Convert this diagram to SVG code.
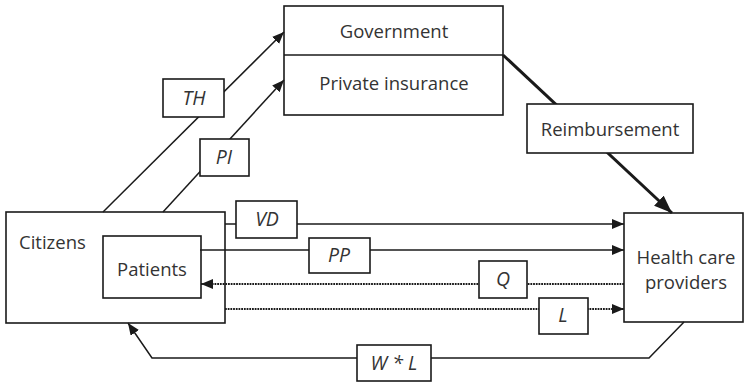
<svg xmlns="http://www.w3.org/2000/svg" width="745" height="383" viewBox="0 0 745 383">
  <defs>
    <marker id="arr" viewBox="0 0 12 10" refX="12" refY="5" markerWidth="12" markerHeight="10" markerUnits="userSpaceOnUse" orient="auto">
      <path d="M0,0 L12,5 L0,10 Z" fill="#1a1a1a"/>
    </marker>
    <marker id="arrBig" viewBox="0 0 18 14" refX="18" refY="7" markerWidth="18" markerHeight="14" markerUnits="userSpaceOnUse" orient="auto">
      <path d="M0,0 L18,7 L0,14 Z" fill="#1a1a1a"/>
    </marker>
  </defs>
  <style>
    .box { fill: #ffffff; stroke: #1a1a1a; stroke-width: 1.6; }
    .lbl { fill: #ffffff; stroke: #1a1a1a; stroke-width: 1.6; }
    .ln { fill: none; stroke: #1a1a1a; stroke-width: 1.5; }
    .dot { fill: none; stroke: #1a1a1a; stroke-width: 1.8; stroke-dasharray: 1.8 0.9; }
    .thick { fill: none; stroke: #1a1a1a; stroke-width: 3; }
    text { font-family: "Open Sans", "Noto Sans", "Liberation Sans", sans-serif; font-size: 18.5px; fill: #333333; }
    .it { font-style: italic; text-anchor: middle; font-size: 19.5px; }
    .mid { text-anchor: middle; }
  </style>
  <rect width="745" height="383" fill="#ffffff"/>

  <g id="payer">
    <rect class="box" x="284" y="6" width="219" height="109"/>
    <line class="box" x1="284" y1="55" x2="503" y2="55"/>
    <text class="mid" x="394" y="38">Government</text>
    <text class="mid" x="394" y="90">Private insurance</text>
  </g>

  <g id="citizens">
    <rect class="box" x="6" y="212" width="219" height="111"/>
    <text x="19" y="249">Citizens</text>
  </g>

  <g id="patients">
    <rect class="box" x="103" y="236" width="98" height="62"/>
    <text class="mid" x="152" y="276">Patients</text>
  </g>

  <g id="providers">
    <rect class="box" x="624" y="213" width="119" height="109"/>
    <text class="mid" x="686" y="264">Health care</text>
    <text class="mid" x="686" y="289">providers</text>
  </g>

  <g id="connectors">
    <path class="ln" d="M103,212 L284,32" marker-end="url(#arr)"/>
    <path class="ln" d="M163,212 L284,80" marker-end="url(#arr)"/>
    <path class="thick" d="M503,55 L672,213" marker-end="url(#arrBig)"/>
    <path class="ln" d="M225,224 L624,224" marker-end="url(#arr)"/>
    <path class="ln" d="M200,250 L624,250" marker-end="url(#arr)"/>
    <path class="dot" d="M624,284 L201,284" marker-end="url(#arr)"/>
    <path class="dot" d="M225,309 L624,309" marker-end="url(#arr)"/>
    <path class="ln" d="M684,322 L649,358 L152,358 L128,323" marker-end="url(#arr)"/>
  </g>

  <g id="label-reimbursement">
    <rect class="lbl" x="527" y="104" width="166" height="49"/>
    <text class="mid" x="610" y="136">Reimbursement</text>
  </g>
  <g id="label-th">
    <rect class="lbl" x="163" y="79" width="61" height="38"/>
    <text class="it" x="194" y="105">TH</text>
  </g>
  <g id="label-pi">
    <rect class="lbl" x="200" y="139" width="49" height="37"/>
    <text class="it" x="224" y="164">PI</text>
  </g>
  <g id="label-vd">
    <rect class="lbl" x="236" y="201" width="61" height="37"/>
    <text class="it" x="267" y="226">VD</text>
  </g>
  <g id="label-pp">
    <rect class="lbl" x="309" y="238" width="61" height="35"/>
    <text class="it" x="339" y="262">PP</text>
  </g>
  <g id="label-q">
    <rect class="lbl" x="479" y="261" width="48" height="37"/>
    <text class="it" x="503" y="286">Q</text>
  </g>
  <g id="label-l">
    <rect class="lbl" x="539" y="298" width="49" height="36"/>
    <text class="it" x="563" y="322">L</text>
  </g>
  <g id="label-wl">
    <rect class="lbl" x="357" y="345" width="74" height="36"/>
    <text class="it" x="394" y="370">W * L</text>
  </g>
</svg>
